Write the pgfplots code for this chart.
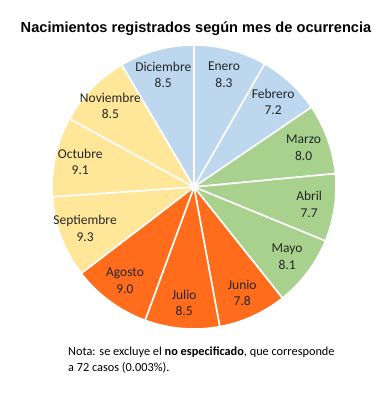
\documentclass[border=0pt]{standalone}
\usepackage{pgfplots}
\pgfplotsset{compat=1.18}
\usepackage{pgfplotstable}
\usepgfplotslibrary{polar}
\usepackage{fontspec}
\setmainfont{Carlito}
\newfontfamily\titlefont{Liberation Sans}
\definecolor{cblue}{HTML}{BDD7EE}
\definecolor{cgreen}{HTML}{A9D18E}
\definecolor{corange}{HTML}{FF6D1C}
\definecolor{cyellow}{HTML}{FFE699}
\pgfplotstableread{
mes value col
Enero 8.3 cblue
Febrero 7.2 cblue
Marzo 8.0 cgreen
Abril 7.7 cgreen
Mayo 8.1 cgreen
Junio 7.8 corange
Julio 8.5 corange
Agosto 9.0 corange
Septiembre 9.3 cyellow
Octubre 9.1 cyellow
Noviembre 8.5 cyellow
Diciembre 8.5 cblue
}\births
\newcommand\labelfont{\fontsize{13.5bp}{16.5bp}\selectfont}
\begin{document}
\begin{tikzpicture}
\useasboundingbox (0,0) rectangle (386bp,-395bp);
\begin{polaraxis}[
  at={(194bp,-187bp)}, anchor=origin,
  scale only axis, width=284bp, height=284bp,
  ymin=0, ymax=1, xmin=0, xmax=360,
  hide axis, clip=false,
]
\def\cum{0}
\pgfplotsforeachungrouped \i in {0,...,11}{%
  \pgfplotstablegetelem{\i}{value}\of\births \let\v\pgfplotsretval
  \pgfplotstablegetelem{\i}{mes}\of\births \let\m\pgfplotsretval
  \pgfplotstablegetelem{\i}{col}\of\births \let\c\pgfplotsretval
  \pgfmathsetmacro\a{90-3.6*\cum}%
  \pgfmathsetmacro\b{90-3.6*(\cum+\v)}%
  \pgfmathsetmacro\mid{(\a+\b)/2}%
  \pgfmathsetmacro\cum{\cum+\v}%
  \edef\temp{\noexpand\addplot[fill=\c, draw=white, line width=1.6bp, domain=\b:\a, samples=50] {1} -- (axis cs:0,0) -- cycle;
    \noexpand\node[align=center, font=\noexpand\labelfont, text=black!85] at (axis cs:\mid,0.82) {\m\noexpand\\\v};}%
  \temp
}
\end{polaraxis}
\node[anchor=base, inner sep=0pt, font=\titlefont\bfseries\fontsize{14.6bp}{17bp}\selectfont] at (196bp,-32.5bp) {Nacimientos registrados según mes de ocurrencia};
\node[anchor=base west, align=left, inner sep=0pt, font=\fontsize{12.3bp}{16bp}\selectfont] at (68bp,-371bp) {Nota: se excluye el \textbf{no especificado}, que corresponde\\a 72 casos (0.003\%).};
\end{tikzpicture}
\end{document}
